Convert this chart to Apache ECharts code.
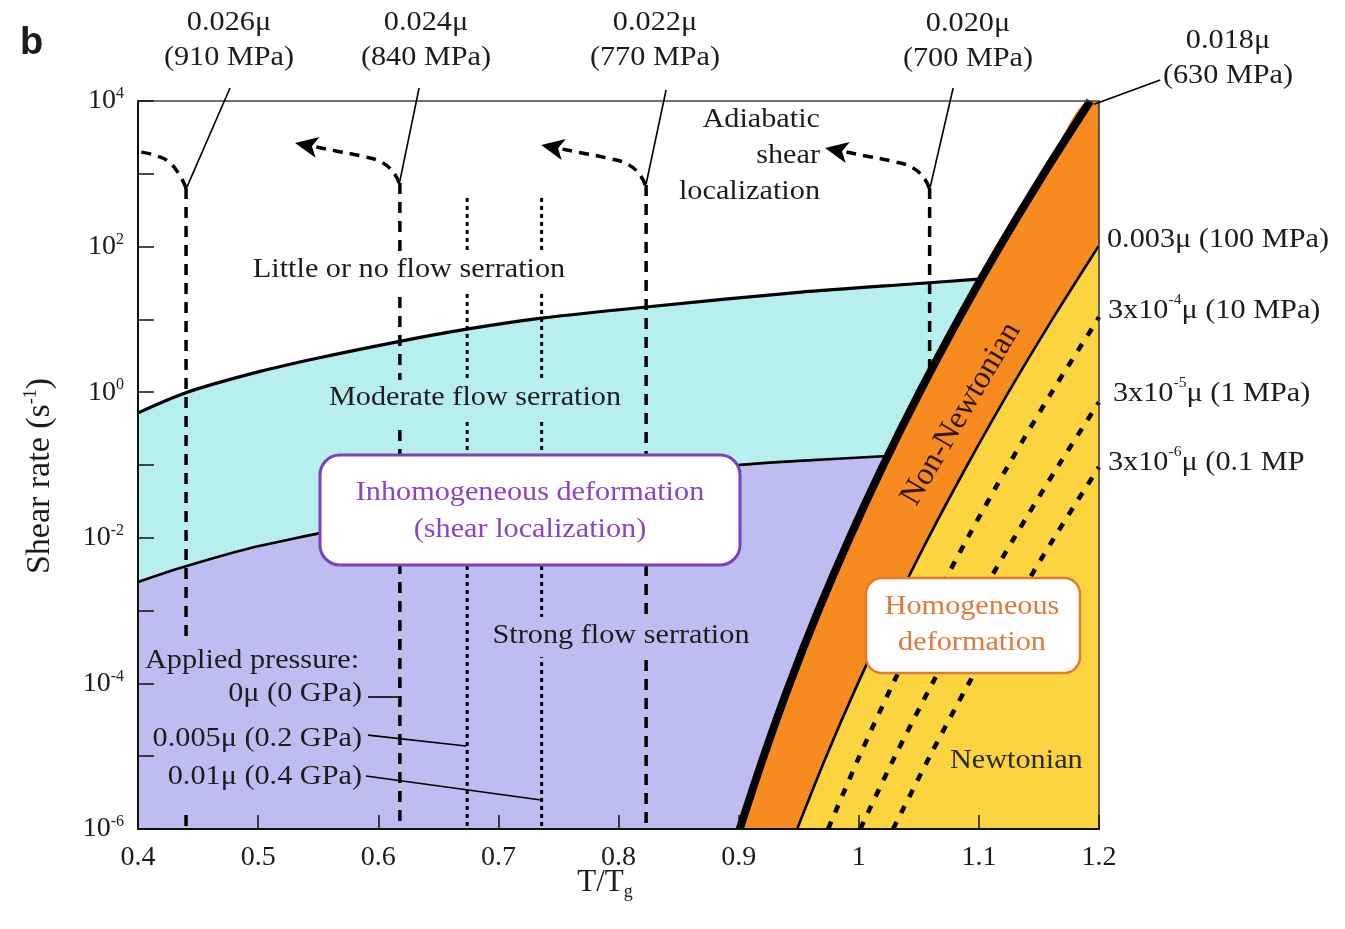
<!DOCTYPE html>
<html>
<head>
<meta charset="utf-8">
<script src="https://cdn.jsdelivr.net/npm/echarts@6/dist/echarts.min.js"></script>
<style>
  html, body { margin: 0; padding: 0; background: #fff; }
  #chart { width: 1345px; height: 929px; }
</style>
</head>
<body>
<div id="chart"></div>
<script>
// ---- data: [T/Tg, shear rate (s^-1)] ----
const tRange = [0.4, 1.2];
const rateRange = [1e-6, 1e4];

// little/no serration  |  moderate serration
const littleModerate = [[0.400, 0.52], [0.441, 1.0], [0.50, 1.9], [0.55, 2.95], [0.618, 5.0], [0.675, 7.4],
  [0.736, 10.4], [0.823, 14.8], [0.95, 23.5], [1.056, 31.6], [1.102, 36]];
// moderate serration  |  strong serration
const moderateStrong = [[0.400, 0.00247], [0.435, 0.00385], [0.493, 0.0072], [0.551, 0.0116], [0.62, 0.0206],
  [0.70, 0.036], [0.80, 0.066], [0.90, 0.100], [0.95, 0.114], [1.024, 0.133]];
// edge of the non-Newtonian band (0.018 mu), read at each decade
const nonNewtonianEdge = [[0.9009, 1e-6], [0.9209, 1e-5], [0.9426, 1e-4], [0.9664, 1e-3], [0.9924, 1e-2],
  [1.0205, 1e-1], [1.0507, 1], [1.0830, 1e1], [1.1174, 1e2], [1.1540, 1e3], [1.1927, 1e4]];
// constant-stress contours in the homogeneous field
const contour100MPa = [[0.9487, 1e-6], [0.9730, 1e-5], [0.9993, 1e-4], [1.0277, 1e-3], [1.0580, 1e-2],
  [1.0904, 1e-1], [1.1247, 1], [1.1611, 1e1], [1.1994, 1e2], [1.2, 102]];
const contour10MPa = [[0.9745, 1e-6], [1.0006, 1e-5], [1.0286, 1e-4], [1.0586, 1e-3], [1.0907, 1e-2],
  [1.1247, 1e-1], [1.1607, 1], [1.1989, 1e1], [1.2, 10.8]];
const contour1MPa = [[1.0012, 1e-6], [1.0302, 1e-5], [1.0613, 1e-4], [1.0943, 1e-3], [1.1294, 1e-2],
  [1.1665, 1e-1], [1.2, 0.73]];
const contour01MPa = [[1.0286, 1e-6], [1.0592, 1e-5], [1.0916, 1e-4], [1.1262, 1e-3], [1.1627, 1e-2],
  [1.2, 0.094]];

// onset of shear localization at constant stress
const stressLineX = [0.440, 0.618, 0.823, 1.059];
const stressLineTop = [638, 748, 701, 638];
const stressLabels = ['0.026\u03bc', '0.024\u03bc', '0.022\u03bc', '0.020\u03bc', '0.018\u03bc'];
const stressMPa = ['(910 MPa)', '(840 MPa)', '(770 MPa)', '(700 MPa)', '(630 MPa)'];
// the 0.024 mu line shifted by applied pressure (0.2 GPa, 0.4 GPa)
const pressureLineX = [0.674, 0.736];
const pressureLineTop = 466;

// adiabatic-shear branches rising from each stress line
const arc026 = [[0.440, 638], [0.435, 933], [0.4267, 1406], [0.4158, 1758], [0.4015, 2000]];
const arc024 = [[0.6173, 748], [0.6123, 1059], [0.6023, 1452], [0.5857, 1758], [0.5649, 2056], [0.544, 2410], [0.5307, 2649]];
const arc022 = [[0.8222, 701], [0.8172, 993], [0.8072, 1361], [0.7906, 1648], [0.7697, 1928], [0.7489, 2259], [0.7356, 2483]];
const arc020 = [[1.0586, 638], [1.0536, 903], [1.0436, 1239], [1.027, 1500], [1.0061, 1754], [0.9853, 2056], [0.972, 2259]];

// leader lines from the stress labels
const stressLeaders = [
  [[0.4766, 15100], [0.4408, 660]],
  [[0.634, 15100], [0.618, 796]],
  [[0.8396, 14160], [0.823, 724]],
  [[1.0786, 15100], [1.0595, 659]],
  [[1.251, 19400], [1.196, 9000]]
];
// leader lines from the applied-pressure labels
const pressureLeaders = [
  [[0.5915, 6.5e-5], [0.6173, 6.5e-5]],
  [[0.5915, 1.95e-5], [0.6731, 1.38e-5]],
  [[0.5898, 5.35e-6], [0.7356, 2.5e-6]]
];

// ---- styling ----
const SERIF = "'Liberation Serif','Times New Roman','DejaVu Serif',serif";
const C_LAV = '#bdbdf2', C_CYAN = '#b7eeee', C_ORANGE = '#f78b1f', C_YELLOW = '#fbd43f';
const INK = '#1c1c1c';
const SX = 1.12;
const SMOOTH = 0.3;

// shear rate on the non-Newtonian edge at a given T/Tg (log interpolation)
function rateOnEdge(x) {
  const e = nonNewtonianEdge;
  for (let i = 1; i < e.length; i++) {
    if (x <= e[i][0]) {
      const f = (x - e[i - 1][0]) / (e[i][0] - e[i - 1][0]);
      return Math.pow(10, Math.log10(e[i - 1][1]) + f * (Math.log10(e[i][1]) - Math.log10(e[i - 1][1])));
    }
  }
  return e[e.length - 1][1];
}

function fill(data, color) {
  return { type: 'line', data, smooth: SMOOTH, symbol: 'none', silent: true, z: 1,
    lineStyle: { opacity: 0 }, areaStyle: { color, opacity: 1, origin: 'start' } };
}
function curve(data, width, type, z) {
  return { type: 'line', data, smooth: SMOOTH, symbol: 'none', silent: true, z: z || 3,
    lineStyle: { color: '#000', width, type: type || 'solid', cap: 'butt' } };
}
function straight(data, width, type, z) {
  return { type: 'line', data, symbol: 'none', silent: true, z: z || 3, clip: false,
    lineStyle: { color: '#000', width, type: type || 'solid', cap: 'butt' } };
}
function arc(data, arrow) {
  const d = data.map((p, i) => (arrow && i === data.length - 1)
    ? { value: p, symbol: 'arrow', symbolSize: [16, 23], symbolRotate: 79 } : p);
  return { type: 'line', data: d, smooth: 0.5, symbol: 'none', showSymbol: true, silent: true, z: 3,
    itemStyle: { color: '#000' }, lineStyle: { color: '#000', width: 3.5, type: [10, 7] } };
}

const series = [
  fill(littleModerate, C_CYAN),
  fill(moderateStrong, C_LAV),
  fill(nonNewtonianEdge.concat([[1.2, 1e4]]), C_ORANGE),
  fill(contour100MPa, C_YELLOW)
];
stressLineX.forEach((x, i) => {
  const bottom = i === stressLineX.length - 1 ? rateOnEdge(x) : rateRange[0];
  series.push(straight([[x, stressLineTop[i]], [x, bottom]], 3.5, [11, 8], 2));
});
pressureLineX.forEach(x => series.push(straight([[x, pressureLineTop], [x, rateRange[0]]], 3, [4, 4], 2)));
series.push(
  curve(littleModerate, 3.2),
  curve(moderateStrong, 2.6),
  curve(contour100MPa, 2.6, 'solid', 4),
  curve(contour10MPa, 4.5, [8, 10], 4),
  curve(contour1MPa, 4.5, [8, 10], 4),
  curve(contour01MPa, 4.5, [8, 10], 4),
  curve(nonNewtonianEdge, 8, 'solid', 5),
  arc(arc026, false), arc(arc024, true), arc(arc022, true), arc(arc020, true)
);
pressureLeaders.forEach(l => series.push(straight(l, 1.6, 'solid', 6)));

// ---- annotations ----
function txt(x, y, text, o) {
  o = o || {};
  return { type: 'text', x, y, z: 40, scaleX: o.scale == null ? SX : o.scale, rotation: o.rotation || 0, silent: true,
    style: { text, fill: o.color || INK, fontFamily: o.family || SERIF, fontSize: o.size || 27,
      fontWeight: o.weight || 'normal', align: o.align || 'center', textAlign: o.align || 'center',
      verticalAlign: 'middle', textVerticalAlign: 'middle', lineHeight: o.lh || 35, rich: o.rich } };
}
function rect(x, y, w, h, fillC, o) {
  o = o || {};
  return { type: 'rect', z: o.z || 30, silent: true, shape: { x, y, width: w, height: h, r: o.r || 0 },
    style: { fill: fillC, stroke: o.stroke || null, lineWidth: o.lw || 0 } };
}
const supRich = {
  a: { fontFamily: SERIF, fontSize: 27, fill: INK, color: INK },
  s: { fontFamily: SERIF, fontSize: 14, fill: INK, color: INK, verticalAlign: 'top', lineHeight: 14 }
};

const graphics = [
  txt(20, 44, 'b', { family: "'Liberation Sans',Arial,sans-serif", size: 38, weight: 'bold', align: 'left', scale: 1 }),
  txt(40, 476, '{n|Shear rate (s}{s|-1}{n|)}', { rotation: Math.PI / 2, scale: 1, rich: {
    n: { fontFamily: SERIF, fontSize: 34, fill: INK, color: INK },
    s: { fontFamily: SERIF, fontSize: 18, fill: INK, color: INK, verticalAlign: 'top', lineHeight: 18 } } }),
  txt(605, 883, '{n|T/T}{g|g}', { scale: 1, rich: {
    n: { fontFamily: SERIF, fontSize: 31, fill: INK, color: INK, lineHeight: 36 },
    g: { fontFamily: SERIF, fontSize: 18, fill: INK, color: INK, verticalAlign: 'bottom', lineHeight: 18 } } }),
  // stress labels above the frame
  txt(229, 40, stressLabels[0] + '\n' + stressMPa[0]),
  txt(426, 40, stressLabels[1] + '\n' + stressMPa[1]),
  txt(655, 40, stressLabels[2] + '\n' + stressMPa[2]),
  txt(968, 41, stressLabels[3] + '\n' + stressMPa[3]),
  txt(1228, 58, stressLabels[4] + '\n' + stressMPa[4]),
  // contour labels at the right edge
  txt(1107, 240, '0.003\u03bc (100 MPa)', { align: 'left' }),
  txt(1108, 311, '{a|3x10}{s|-4}{a|\u03bc (10 MPa)}', { align: 'left', rich: supRich }),
  txt(1113, 394, '{a|3x10}{s|-5}{a|\u03bc (1 MPa)}', { align: 'left', rich: supRich }),
  txt(1108, 463, '{a|3x10}{s|-6}{a|\u03bc (0.1 MP}', { align: 'left', rich: supRich }),
  // regime names
  txt(820, 156, 'Adiabatic\nshear\nlocalization', { align: 'right', lh: 36 }),
  rect(243, 251, 334, 39, '#ffffff'),
  txt(409, 270, 'Little or no flow serration'),
  rect(318, 380, 314, 42, C_CYAN),
  txt(475, 398, 'Moderate flow serration'),
  rect(484, 617, 276, 40, C_LAV),
  txt(621, 636, 'Strong flow serration'),
  rect(154, 636, 212, 176, C_LAV),
  txt(145, 661, 'Applied pressure:', { align: 'left' }),
  txt(362, 694, '0\u03bc (0 GPa)', { align: 'right' }),
  txt(362, 739, '0.005\u03bc (0.2 GPa)', { align: 'right' }),
  txt(362, 777, '0.01\u03bc (0.4 GPa)', { align: 'right' }),
  rect(320, 455, 420, 110, '#ffffff', { stroke: '#7b3fc0', lw: 3, r: 20 }),
  txt(530, 511, 'Inhomogeneous deformation\n(shear localization)', { color: '#8a43cc', lh: 37 }),
  rect(866, 578, 214, 95, '#ffffff', { stroke: '#e47a2e', lw: 2.5, r: 16 }),
  txt(972, 625, 'Homogeneous\ndeformation', { color: '#e07a3a', lh: 36 }),
  txt(961, 414, 'Non-Newtonian', { rotation: 59.5 * Math.PI / 180, color: '#2b1400', size: 32, scale: 1 }),
  txt(950, 761, 'Newtonian', { align: 'left', color: '#2a2a12' })
];

const chart = echarts.init(document.getElementById('chart'));
chart.setOption({
  animation: false,
  backgroundColor: '#ffffff',
  grid: { left: 138, right: 246, top: 101, bottom: 100, containLabel: false },
  xAxis: [{
    type: 'value', min: tRange[0], max: tRange[1], interval: 0.1, z: 8,
    axisLine: { lineStyle: { color: '#111', width: 2 } },
    axisTick: { inside: true, length: 14, lineStyle: { color: '#111', width: 1.5 } },
    axisLabel: { fontFamily: SERIF, fontSize: 28, color: INK, margin: 15,
      formatter: v => String(+(+v).toFixed(1)) },
    splitLine: { show: false }
  }, {
    type: 'value', position: 'top', min: tRange[0], max: tRange[1], z: 8,
    axisLine: { show: true, lineStyle: { color: '#444', width: 1.5 } },
    axisTick: { show: false }, axisLabel: { show: false }, splitLine: { show: false }
  }],
  yAxis: [{
    type: 'log', logBase: 10, min: rateRange[0], max: rateRange[1], interval: 1, z: 8,
    axisLine: { show: true, lineStyle: { color: '#111', width: 2 } },
    axisTick: { show: true, inside: true, length: 16, lineStyle: { color: '#111', width: 1.5 } },
    minorTick: { show: false },
    axisLabel: {
      margin: 14, showMinLabel: true, showMaxLabel: true,
      formatter: v => { const e = Math.round(Math.log10(v)); return e % 2 === 0 ? '{b|10}{s|' + e + '}' : ''; },
      rich: {
        b: { fontFamily: SERIF, fontSize: 28, color: INK, lineHeight: 30 },
        s: { fontFamily: SERIF, fontSize: 16, color: INK, verticalAlign: 'top', lineHeight: 16 }
      }
    },
    splitLine: { show: false }
  }, {
    type: 'log', logBase: 10, position: 'right', min: rateRange[0], max: rateRange[1], z: 8,
    axisLine: { show: true, lineStyle: { color: '#333', width: 1.5 } },
    axisTick: { show: false }, axisLabel: { show: false }, splitLine: { show: false }
  }],
  series,
  graphic: { elements: graphics }
});

// leaders from the stress labels run outside the frame, so they are placed from the axes' own scales
const leaderLines = stressLeaders.map(l => {
  const a = chart.convertToPixel({ gridIndex: 0 }, l[0]);
  const b = chart.convertToPixel({ gridIndex: 0 }, l[1]);
  return { type: 'line', z: 35, silent: true, shape: { x1: a[0], y1: a[1], x2: b[0], y2: b[1] },
    style: { stroke: '#000', lineWidth: 1.6 } };
});
chart.setOption({ graphic: { elements: graphics.concat(leaderLines) } });
</script>
</body>
</html>
